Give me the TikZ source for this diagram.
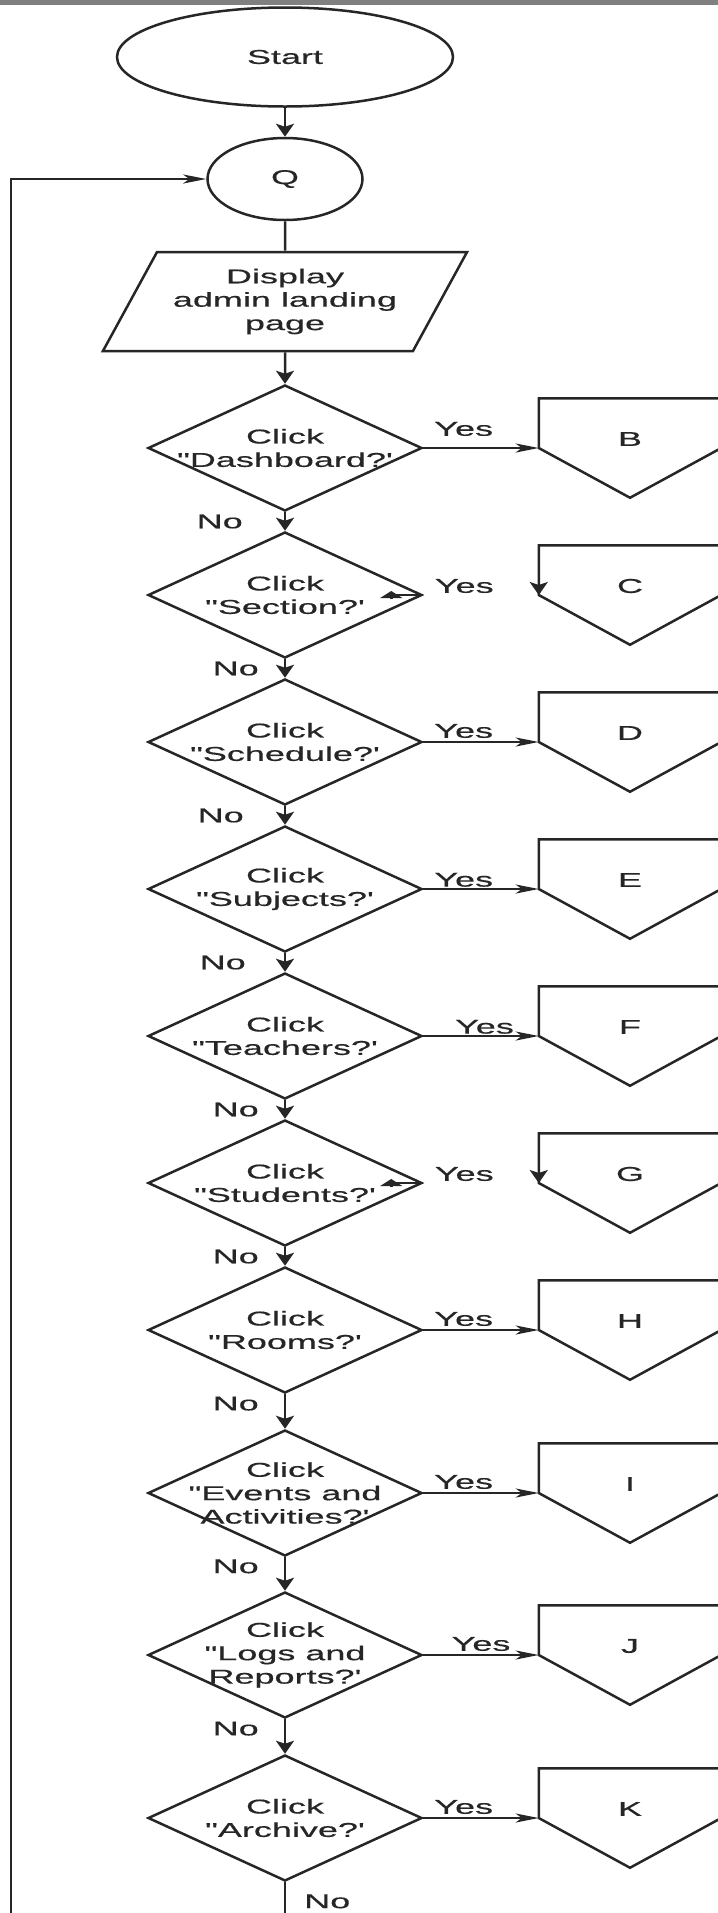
\documentclass[tikz,border=0pt]{standalone}
\usepackage{fontspec}
\setmainfont{Liberation Sans}[FakeStretch=1.8, FakeBold=0.5, Ligatures=TeXOff]
\usetikzlibrary{shapes.geometric, arrows.meta, positioning}

\begin{document}
\begin{tikzpicture}[x=0.5pt, y=-0.5pt, on grid, node distance=73.5pt,
    color=black!85, line width=1.25pt,
    every node/.style={font=\fontsize{10pt}{11.7pt}\selectfont},
    term/.style={ellipse, draw, minimum width=168pt, minimum height=49.5pt},
    connector/.style={ellipse, draw, minimum width=77.5pt, minimum height=41pt},
    io/.style={trapezium, draw, trapezium left angle=57.5, trapezium right angle=122.5,
      trapezium stretches=true, minimum width=182.5pt, minimum height=49.5pt, align=center},
    decision/.style={diamond, draw, minimum width=137pt, minimum height=63pt, inner sep=0pt},
    offpage/.style={minimum width=90pt, minimum height=48.5pt, inner sep=0pt},
    varr/.style={-{Stealth[length=6.5pt, width=9pt, inset=1.5pt]}},
    harr/.style={-{Stealth[length=11.5pt, width=4.5pt, inset=3pt]}},
    flat/.style={-{Stealth[length=3.5pt, width=11pt, inset=0pt]}},
    yes/.style={above, inner sep=1.4pt, pos=0.35},
    no/.style={left=11.5pt, inner sep=1pt}]
  \useasboundingbox (0,0) rectangle (718,1913);
  \clip (0,0) rectangle (718,1913);
  \fill[gray] (0,0) rectangle (718,5);

  \node[term]      (start) at (285,57)           {Start};
  \node[connector] (q)     [below=61pt of start] {Q};
  \node[io]        (disp)  [below=61.25pt of q]  {Display\\admin landing\\page};

  \node[decision, label={[align=center]center:Click\\"Dashboard?'}] (d1) [below=73.25pt of disp] {};
  \node[decision, label={[align=center]center:Click\\"Section?'}]   (d2) [below=of d1] {};
  \node[decision, label={[align=center]center:Click\\"Schedule?'}]  (d3) [below=of d2] {};
  \node[decision, label={[align=center]center:Click\\"Subjects?'}]  (d4) [below=of d3] {};
  \node[decision, label={[align=center]center:Click\\"Teachers?'}]  (d5) [below=of d4] {};
  \node[decision, label={[align=center]center:Click\\"Students?'}]  (d6) [below=of d5] {};
  \node[decision, label={[align=center]center:Click\\"Rooms?'}]     (d7) [below=of d6] {};
  \node[decision, label={[align=center]center:Click\\"Events and\\Activities?'}] (d8) [below=81.5pt of d7] {};
  \node[decision, label={[align=center]center:Click\\"Logs and\\Reports?'}]      (d9) [below=81pt of d8] {};
  \node[decision, label={[align=center]center:Click\\"Archive?'}]   (d10) [below=81.5pt of d9] {};

  % off-page connectors
  \node[offpage, label={[yshift=4.5pt]center:B}] (pB) [right=172.5pt of d1]  {};
  \node[offpage, label={[yshift=4.5pt]center:C}] (pC) [right=172.5pt of d2]  {};
  \node[offpage, label={[yshift=4.5pt]center:D}] (pD) [right=172.5pt of d3]  {};
  \node[offpage, label={[yshift=4.5pt]center:E}] (pE) [right=172.5pt of d4]  {};
  \node[offpage, label={[yshift=4.5pt]center:F}] (pF) [right=172.5pt of d5]  {};
  \node[offpage, label={[yshift=4.5pt]center:G}] (pG) [right=172.5pt of d6]  {};
  \node[offpage, label={[yshift=4.5pt]center:H}] (pH) [right=172.5pt of d7]  {};
  \node[offpage, label={[yshift=4.5pt]center:I}] (pI) [right=172.5pt of d8]  {};
  \node[offpage, label={[yshift=4.5pt]center:J}] (pJ) [right=172.5pt of d9]  {};
  \node[offpage, label={[yshift=4.5pt]center:K}] (pK) [right=172.5pt of d10] {};
  \foreach \p in {B,C,D,E,F,G,H,I,J,K}
    \draw (p\p.west) -- (p\p.south) -- (p\p.east) -- (p\p.north east) -- (p\p.north west) -- cycle;

  \coordinate (loopend) at (11,1930);
  \coordinate (exit)    at (285,1930);

  \draw[varr] (start) -- (q);
  \draw (q) -- (disp);
  \draw[varr] (disp) -- (d1);
  \draw[harr] (loopend) |- (q.west);

  \path[varr]
    (d1) edge node[no, left=19.5pt] {No} (d2)
    (d2) edge node[no]              {No} (d3)
    (d3) edge node[no, left=19pt]   {No} (d4)
    (d4) edge node[no, left=18pt]   {No} (d5)
    (d5) edge node[no]              {No} (d6)
    (d6) edge node[no]              {No} (d7)
    (d7) edge node[no, pos=0.27]    {No} (d8)
    (d8) edge node[no, pos=0.27]    {No} (d9)
    (d9) edge node[no, pos=0.27]    {No} (d10);
  \draw (d10) -- node[right=8pt, pos=0.4, inner sep=1pt] {No} (exit);

  \path[harr]
    (d1)  edge node[yes, inner sep=5.4pt]           {Yes} (pB)
    (d3)  edge node[yes]                            {Yes} (pD)
    (d4)  edge node[yes, inner sep=0.5pt]           {Yes} (pE)
    (d5)  edge node[yes, inner sep=0.5pt, pos=0.53] {Yes} (pF)
    (d7)  edge node[yes]                            {Yes} (pH)
    (d8)  edge node[yes]                            {Yes} (pI)
    (d9)  edge node[yes, pos=0.5]                   {Yes} (pJ)
    (d10) edge node[yes]                            {Yes} (pK);

  % broken Yes links
  \draw (d2.east) -- ++(-30,0);
  \draw[flat] (d2.east) ++(-32,4) -- ++(0,-8);
  \node (yC) [right=20.5pt of d2.east, anchor=center, yshift=4.5pt] {Yes};
  \draw[varr] (pC.north west) -- (pC.west);
  \draw (d6.east) -- ++(-30,0);
  \draw[flat] (d6.east) ++(-32,4) -- ++(0,-8);
  \node (yG) [right=20.5pt of d6.east, anchor=center, yshift=4.5pt] {Yes};
  \draw[varr] (pG.north west) -- (pG.west);
\end{tikzpicture}
\end{document}
